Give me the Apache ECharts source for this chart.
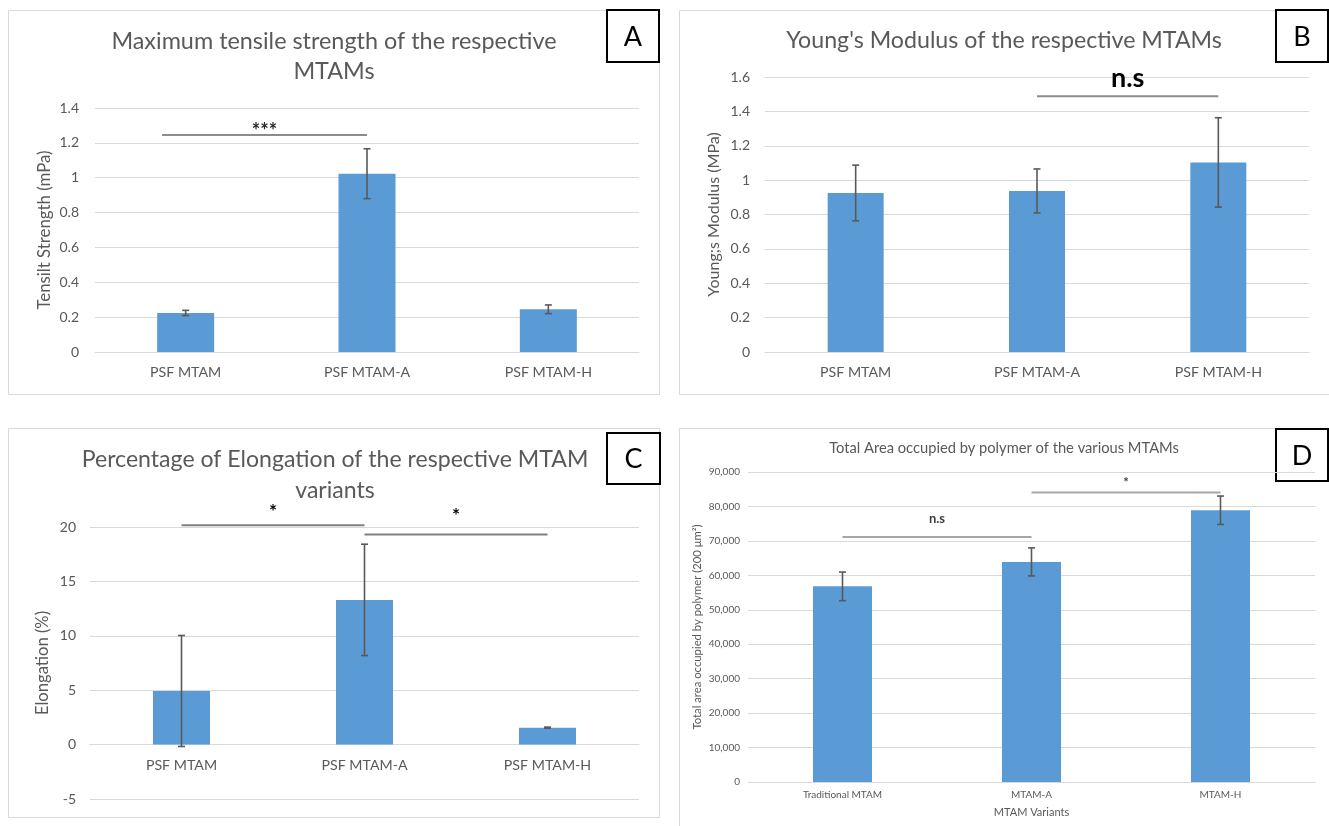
<!DOCTYPE html>
<html><head><meta charset="utf-8">
<script src="https://cdn.jsdelivr.net/npm/echarts@6/dist/echarts.min.js"></script>
<style>html,body{margin:0;padding:0;background:#fff}#c{width:1329px;height:826px}</style>
</head><body><div id="c"></div>
<script>
// ---- Data ----
const catsA = ['PSF MTAM', 'PSF MTAM-A', 'PSF MTAM-H'];
const valsA = [0.224, 1.023, 0.245];
const errA = [0.015, 0.143, 0.025];
const sigA = [{from: -0.13, to: 1, y: 1.245, mark: '***', markY: 1.266}];

const catsB = ['PSF MTAM', 'PSF MTAM-A', 'PSF MTAM-H'];
const valsB = [0.925, 0.937, 1.103];
const errB = [0.162, 0.128, 0.26];
const sigB = [{from: 1, to: 2, y: 1.488, mark: 'n.s', markY: 1.59}];

const catsC = ['PSF MTAM', 'PSF MTAM-A', 'PSF MTAM-H'];
const valsC = [4.93, 13.3, 1.56];
const errC = [5.1, 5.12, 0.05];
const sigC = [{from: 0, to: 1, y: 20.15, mark: '*', markY: 21.4},
              {from: 1, to: 2, y: 19.3, mark: '*', markY: 21.05}];

const catsD = ['Traditional MTAM', 'MTAM-A', 'MTAM-H'];
const valsD = [56800, 63900, 78900];
const errD = [4150, 4070, 4120];
const sigD = [{from: 0, to: 1, y: 71140, mark: 'n.s', markY: 76480},
              {from: 1, to: 2, y: 84030, mark: '*', markY: 87000}];

const titles = ['Maximum tensile strength of the respective\nMTAMs',
                "Young's Modulus of the respective MTAMs",
                'Percentage of Elongation of the respective MTAM\nvariants',
                'Total Area occupied by polymer of the various MTAMs'];
const yNames = ['Tensilt Strength (mPa)', 'Young;s Modulus (MPa)', 'Elongation (%)', 'Total area occupied by polymer (200 μm²)'];
const xNameD = 'MTAM Variants';
const panelLetters = ['A', 'B', 'C', 'D'];

// ---- Styling ----
const FONT = 'Lato';
const BLUE = '#5B9BD5';
const TXT = '#595959';
const GRID = '#D9D9D9';

const panels = [
  {cats: catsA, vals: valsA, err: errA, sig: sigA, min: 0, max: 1.4, interval: 0.2,
   grid: {left: 95, top: 108, width: 544, height: 244}, barWidth: 57,
   yLabel: {fontSize: 14, margin: 16}, xLabel: {fontSize: 14.2, margin: 13},
   yNameStyle: {fontSize: 16.8, gap: 42}, sigFont: {size: 20, weight: 'bold', color: '#262626'}, sigLine: '#8c8c8c'},
  {cats: catsB, vals: valsB, err: errB, sig: sigB, min: 0, max: 1.6, interval: 0.2,
   grid: {left: 765, top: 77, width: 544, height: 275}, barWidth: 56,
   yLabel: {fontSize: 14, margin: 15}, xLabel: {fontSize: 14.2, margin: 13},
   yNameStyle: {fontSize: 16, gap: 43}, sigFont: {size: 27, weight: 'bold', color: '#000'}, sigLine: '#8c8c8c'},
  {cats: catsC, vals: valsC, err: errC, sig: sigC, min: -5, max: 20, interval: 5,
   grid: {left: 90, top: 527, width: 549, height: 272}, barWidth: 57,
   yLabel: {fontSize: 14, margin: 14}, xLabel: {fontSize: 14.2, margin: 14},
   yNameStyle: {fontSize: 16.6, gap: 39}, sigFont: {size: 19, weight: 'bold', color: '#000'}, sigLine: '#808080'},
  {cats: catsD, vals: valsD, err: errD, sig: sigD, min: 0, max: 90000, interval: 10000,
   grid: {left: 748, top: 472, width: 567, height: 310}, barWidth: 59,
   yLabel: {fontSize: 10, margin: 8}, xLabel: {fontSize: 10, margin: 8},
   yNameStyle: {fontSize: 11.3, gap: 45}, sigFont: {size: 13, weight: 'bold', color: '#404040'}, sigLine: '#a6a6a6'}
];

function fmtThousands(v) {
  return String(v).replace(/\B(?=(\d{3})+(?!\d))/g, ',');
}

// x axis sits on the zero line (derived from the axis range)
function zeroOffset(p) {
  if (p.min >= 0) return 0;
  return -((0 - p.min) / (p.max - p.min)) * p.grid.height;
}

function errRender(params, api) {
  const x = api.value(0), lo = api.value(1), hi = api.value(2);
  const pHi = api.coord([x, hi]);
  const pLo = api.coord([x, lo]);
  const cap = 3.5;
  const st = {stroke: '#595959', lineWidth: 1.6};
  return {type: 'group', children: [
    {type: 'line', shape: {x1: pHi[0], y1: pHi[1], x2: pLo[0], y2: pLo[1]}, style: st},
    {type: 'line', shape: {x1: pHi[0] - cap, y1: pHi[1], x2: pHi[0] + cap, y2: pHi[1]}, style: st},
    {type: 'line', shape: {x1: pLo[0] - cap, y1: pLo[1], x2: pLo[0] + cap, y2: pLo[1]}, style: st}
  ]};
}

function makeSigRender(panel) {
  return function (params, api) {
    const s = panel.sig[params.dataIndex];
    const p0 = api.coord([0, s.y]);
    const p1 = api.coord([1, s.y]);
    const step = p1[0] - p0[0];
    const x1 = p0[0] + s.from * step, x2 = p0[0] + s.to * step;
    const pt = api.coord([0, s.markY]);
    return {type: 'group', children: [
      {type: 'line', shape: {x1: x1, y1: p0[1], x2: x2, y2: p0[1]}, style: {stroke: panel.sigLine, lineWidth: 2}},
      {type: 'text', x: (x1 + x2) / 2, y: pt[1], style: {text: s.mark, fontFamily: FONT,
        fontSize: panel.sigFont.size, fontWeight: panel.sigFont.weight, fill: panel.sigFont.color,
        align: 'center', verticalAlign: 'middle'}}
    ]};
  };
}

const titleCfg = [
  {left: 334, top: 26, fontSize: 23.4, lineHeight: 30},
  {left: 1004, top: 26, fontSize: 23.2, lineHeight: 30},
  {left: 335, top: 444, fontSize: 23.1, lineHeight: 31},
  {left: 1004, top: 439, fontSize: 14.7, lineHeight: 18}
];

const option = {
  animation: false,
  backgroundColor: '#ffffff',
  textStyle: {fontFamily: FONT},
  title: titles.map((t, i) => ({
    text: t, left: titleCfg[i].left, top: titleCfg[i].top, textAlign: 'center', padding: 0,
    textStyle: {fontFamily: FONT, fontWeight: 'normal', color: TXT, fontSize: titleCfg[i].fontSize, lineHeight: titleCfg[i].lineHeight}
  })),
  grid: panels.map(p => Object.assign({containLabel: false}, p.grid)),
  xAxis: panels.map((p, i) => ({
    type: 'category', gridIndex: i, data: p.cats, offset: zeroOffset(p),
    axisTick: {show: false},
    axisLine: {show: true, onZero: false, lineStyle: {color: GRID, width: 1}},
    axisLabel: {color: TXT, fontFamily: FONT, fontSize: p.xLabel.fontSize, margin: p.xLabel.margin},
    name: i === 3 ? xNameD : '', nameLocation: 'middle', nameGap: 25,
    nameTextStyle: {color: TXT, fontFamily: FONT, fontSize: 11}
  })),
  yAxis: panels.map((p, i) => ({
    type: 'value', gridIndex: i, min: p.min, max: p.max, interval: p.interval,
    axisLine: {show: false}, axisTick: {show: false},
    splitLine: {show: true, lineStyle: {color: GRID, width: 1}},
    axisLabel: {color: TXT, fontFamily: FONT, fontSize: p.yLabel.fontSize, margin: p.yLabel.margin,
      formatter: i === 3 ? fmtThousands : null},
    name: yNames[i], nameLocation: 'middle', nameGap: p.yNameStyle.gap,
    nameTextStyle: {color: TXT, fontFamily: FONT, fontSize: p.yNameStyle.fontSize}
  })),
  series: [].concat(
    panels.map((p, i) => ({
      type: 'bar', xAxisIndex: i, yAxisIndex: i, data: p.vals, barWidth: p.barWidth,
      itemStyle: {color: BLUE}, z: 2
    })),
    panels.map((p, i) => ({
      type: 'custom', xAxisIndex: i, yAxisIndex: i, renderItem: errRender,
      data: p.vals.map((v, k) => [k, v - p.err[k], v + p.err[k]]),
      encode: {x: 0, y: [1, 2]}, z: 5, clip: false
    })),
    panels.map((p, i) => ({
      type: 'custom', xAxisIndex: i, yAxisIndex: i, renderItem: makeSigRender(p),
      data: p.sig.map(s => [s.from, s.y]),
      encode: {x: 0, y: 1}, z: 6, clip: false
    }))
  ),
  graphic: [
    // panel frames
    {type: 'rect', shape: {x: 8.5, y: 10.5, width: 651, height: 384}, style: {fill: null, stroke: GRID, lineWidth: 1}, silent: true},
    {type: 'rect', shape: {x: 679.5, y: 10.5, width: 660, height: 384}, style: {fill: null, stroke: GRID, lineWidth: 1}, silent: true},
    {type: 'rect', shape: {x: 8.5, y: 428.5, width: 651, height: 389}, style: {fill: null, stroke: GRID, lineWidth: 1}, silent: true},
    {type: 'rect', shape: {x: 679.5, y: 428.5, width: 660, height: 410}, style: {fill: null, stroke: GRID, lineWidth: 1}, silent: true},
    // panel letter boxes
    {type: 'rect', shape: {x: 607, y: 10, width: 52, height: 52}, style: {fill: '#fff', stroke: '#000', lineWidth: 2}},
    {type: 'text', x: 633, y: 37, style: {text: panelLetters[0], fontFamily: FONT, fontSize: 27, fill: '#000', align: 'center', verticalAlign: 'middle'}},
    {type: 'rect', shape: {x: 1276, y: 10, width: 52, height: 52}, style: {fill: '#fff', stroke: '#000', lineWidth: 2}},
    {type: 'text', x: 1302, y: 37, style: {text: panelLetters[1], fontFamily: FONT, fontSize: 27, fill: '#000', align: 'center', verticalAlign: 'middle'}},
    {type: 'rect', shape: {x: 607, y: 433, width: 53, height: 51}, style: {fill: '#fff', stroke: '#000', lineWidth: 2}},
    {type: 'text', x: 633.5, y: 459, style: {text: panelLetters[2], fontFamily: FONT, fontSize: 27, fill: '#000', align: 'center', verticalAlign: 'middle'}},
    {type: 'rect', shape: {x: 1276, y: 429, width: 52, height: 52}, style: {fill: '#fff', stroke: '#000', lineWidth: 2}},
    {type: 'text', x: 1302, y: 456, style: {text: panelLetters[3], fontFamily: FONT, fontSize: 27, fill: '#000', align: 'center', verticalAlign: 'middle'}}
  ]
};

const chart = echarts.init(document.getElementById('c'), null, {renderer: 'canvas', width: 1329, height: 826});
chart.setOption(option);
</script>
</body></html>
